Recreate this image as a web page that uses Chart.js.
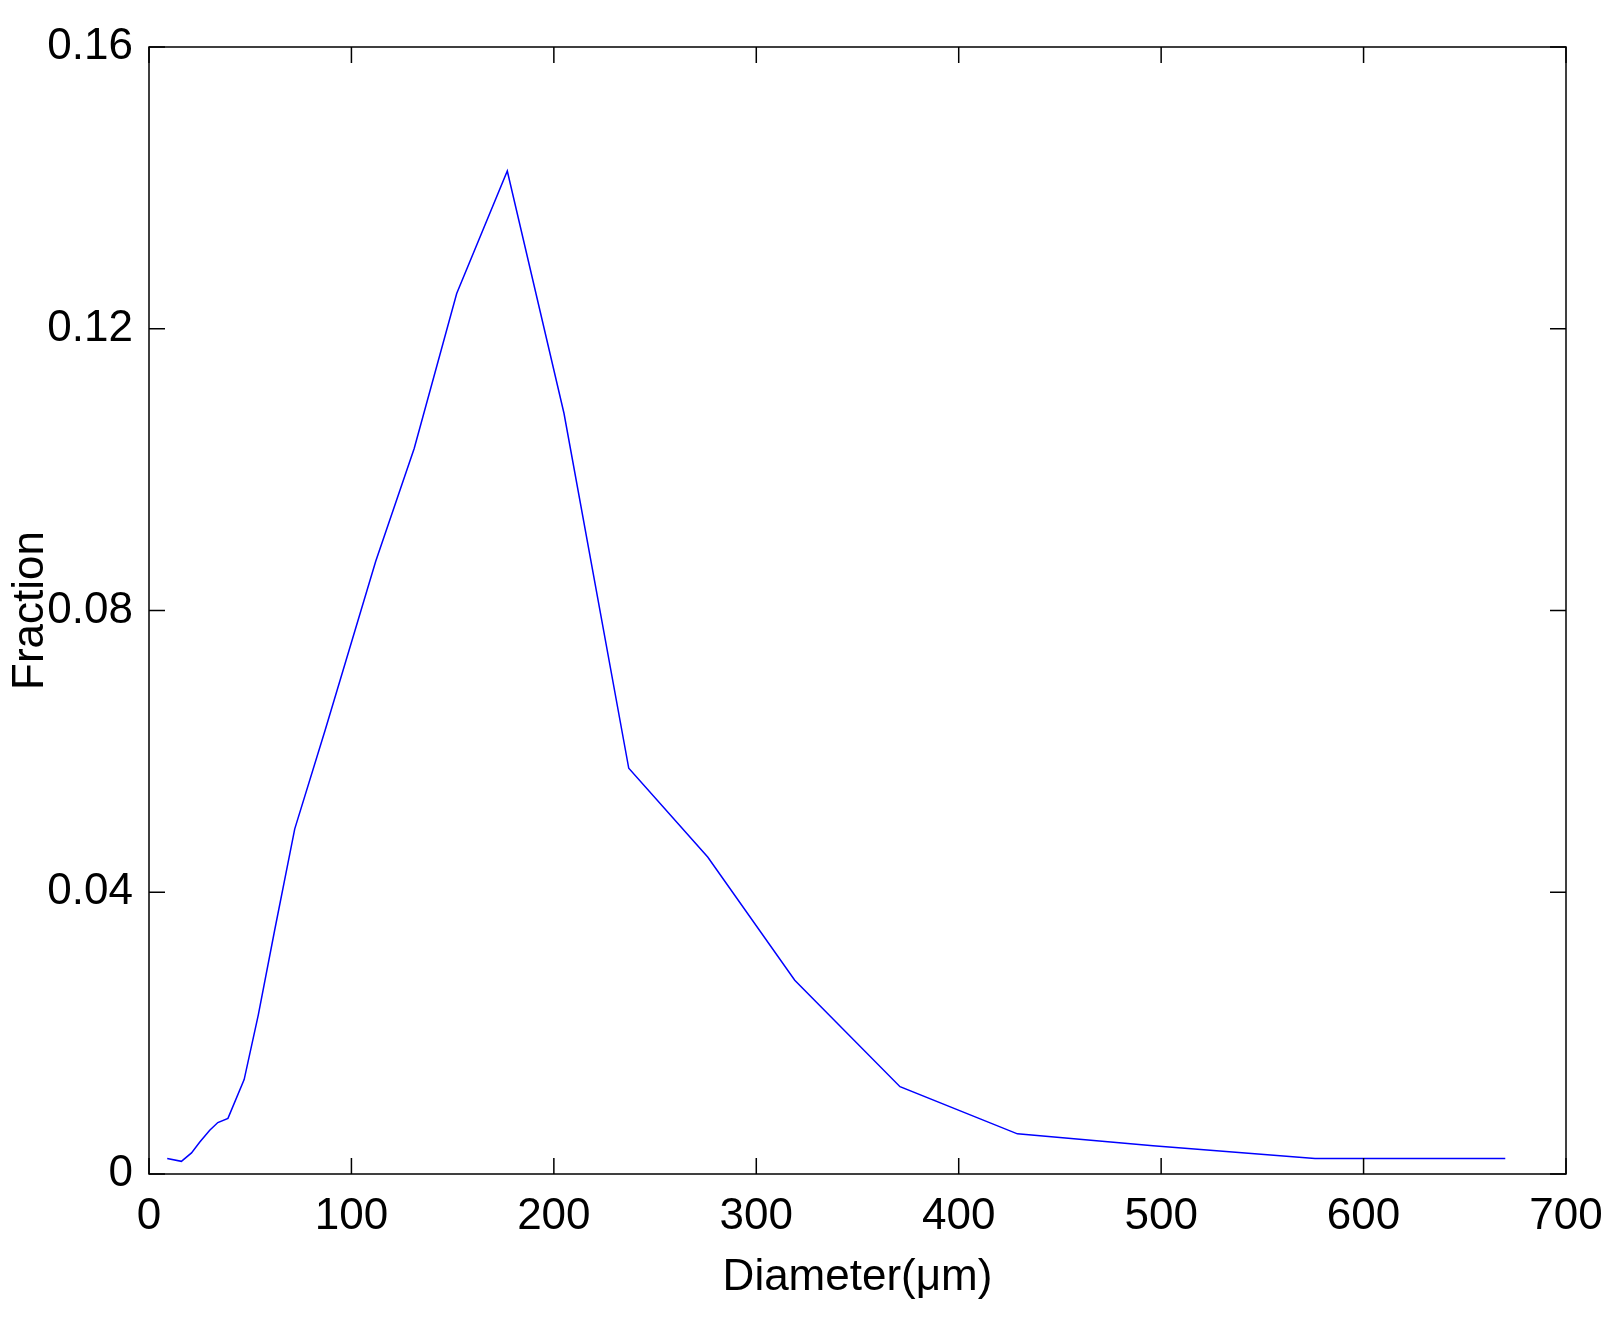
<!DOCTYPE html>
<html>
<head>
<meta charset="utf-8">
<script src="https://cdn.jsdelivr.net/npm/chart.js@4"></script>
<style>
  html, body { margin: 0; padding: 0; background: #fff; }
  #wrap { width: 1624px; height: 1318px; }
</style>
</head>
<body>
<div id="wrap"><canvas id="c"></canvas></div>
<script>
// diameter (um) and fraction
const diameter = [9, 16, 21, 25, 30, 34, 39, 47, 54, 62, 72, 87, 112, 131, 152, 177, 205, 237, 276, 319, 371, 429, 496, 576, 670];
const fraction = [0.0022, 0.0018, 0.003, 0.0045, 0.0062, 0.0073, 0.0079, 0.0134, 0.0226, 0.0345, 0.049, 0.063, 0.087, 0.103, 0.125, 0.1424, 0.108, 0.0576, 0.045, 0.0275, 0.0124, 0.0057, 0.004, 0.0022, 0.0022];
const xTicks = [0, 100, 200, 300, 400, 500, 600, 700];
const yTicks = [0, 0.04, 0.08, 0.12, 0.16];

const font = { family: '"Liberation Sans Narrow", "Liberation Sans", Arial, sans-serif', size: 44 };

// box around the plot with inward ticks on every side
const framePlugin = {
    id: 'frame',
    afterDraw(chart) {
        const { ctx, chartArea: a, scales } = chart;
        ctx.save();
        ctx.strokeStyle = '#000';
        ctx.lineWidth = 1.5;
        ctx.strokeRect(a.left, a.top, a.right - a.left, a.bottom - a.top);
        const len = 16;
        ctx.beginPath();
        xTicks.forEach(v => {
            const x = scales.x.getPixelForValue(v);
            ctx.moveTo(x, a.bottom); ctx.lineTo(x, a.bottom - len);
            ctx.moveTo(x, a.top); ctx.lineTo(x, a.top + len);
        });
        yTicks.forEach(v => {
            const y = scales.y.getPixelForValue(v);
            ctx.moveTo(a.left, y); ctx.lineTo(a.left + len, y);
            ctx.moveTo(a.right, y); ctx.lineTo(a.right - len, y);
        });
        ctx.stroke();
        ctx.restore();
    }
};

new Chart(document.getElementById('c'), {
    type: 'line',
    data: {
        datasets: [{
            data: diameter.map((d, i) => ({ x: d, y: fraction[i] })),
            borderColor: '#0000ff',
            borderWidth: 1.5,
            pointRadius: 0,
            tension: 0,
            fill: false
        }]
    },
    options: {
        responsive: true,
        maintainAspectRatio: false,
        animation: false,
        layout: { padding: { top: 47, right: 58, left: 0, bottom: 10 } },
        plugins: { legend: { display: false }, tooltip: { enabled: false } },
        scales: {
            x: {
                type: 'linear',
                min: 0, max: 700,
                afterBuildTicks: s => { s.ticks = xTicks.map(v => ({ value: v })); },
                afterFit: s => { s.height = 134; },
                grid: { display: false },
                border: { display: false },
                ticks: { font, color: '#000', padding: 8, maxRotation: 0 },
                title: { display: true, text: 'Diameter(μm)', font, color: '#000', padding: { top: 4 } }
            },
            y: {
                min: 0, max: 0.16,
                afterBuildTicks: s => { s.ticks = yTicks.map(v => ({ value: v })); },
                afterFit: s => { s.width = 149; },
                grid: { display: false },
                border: { display: false },
                ticks: { font, color: '#000', padding: 8, callback: v => v === 0 ? '0' : String(v) },
                title: { display: true, text: 'Fraction', font, color: '#000', padding: { bottom: 10 } }
            }
        }
    },
    plugins: [framePlugin]
});
</script>
</body>
</html>
